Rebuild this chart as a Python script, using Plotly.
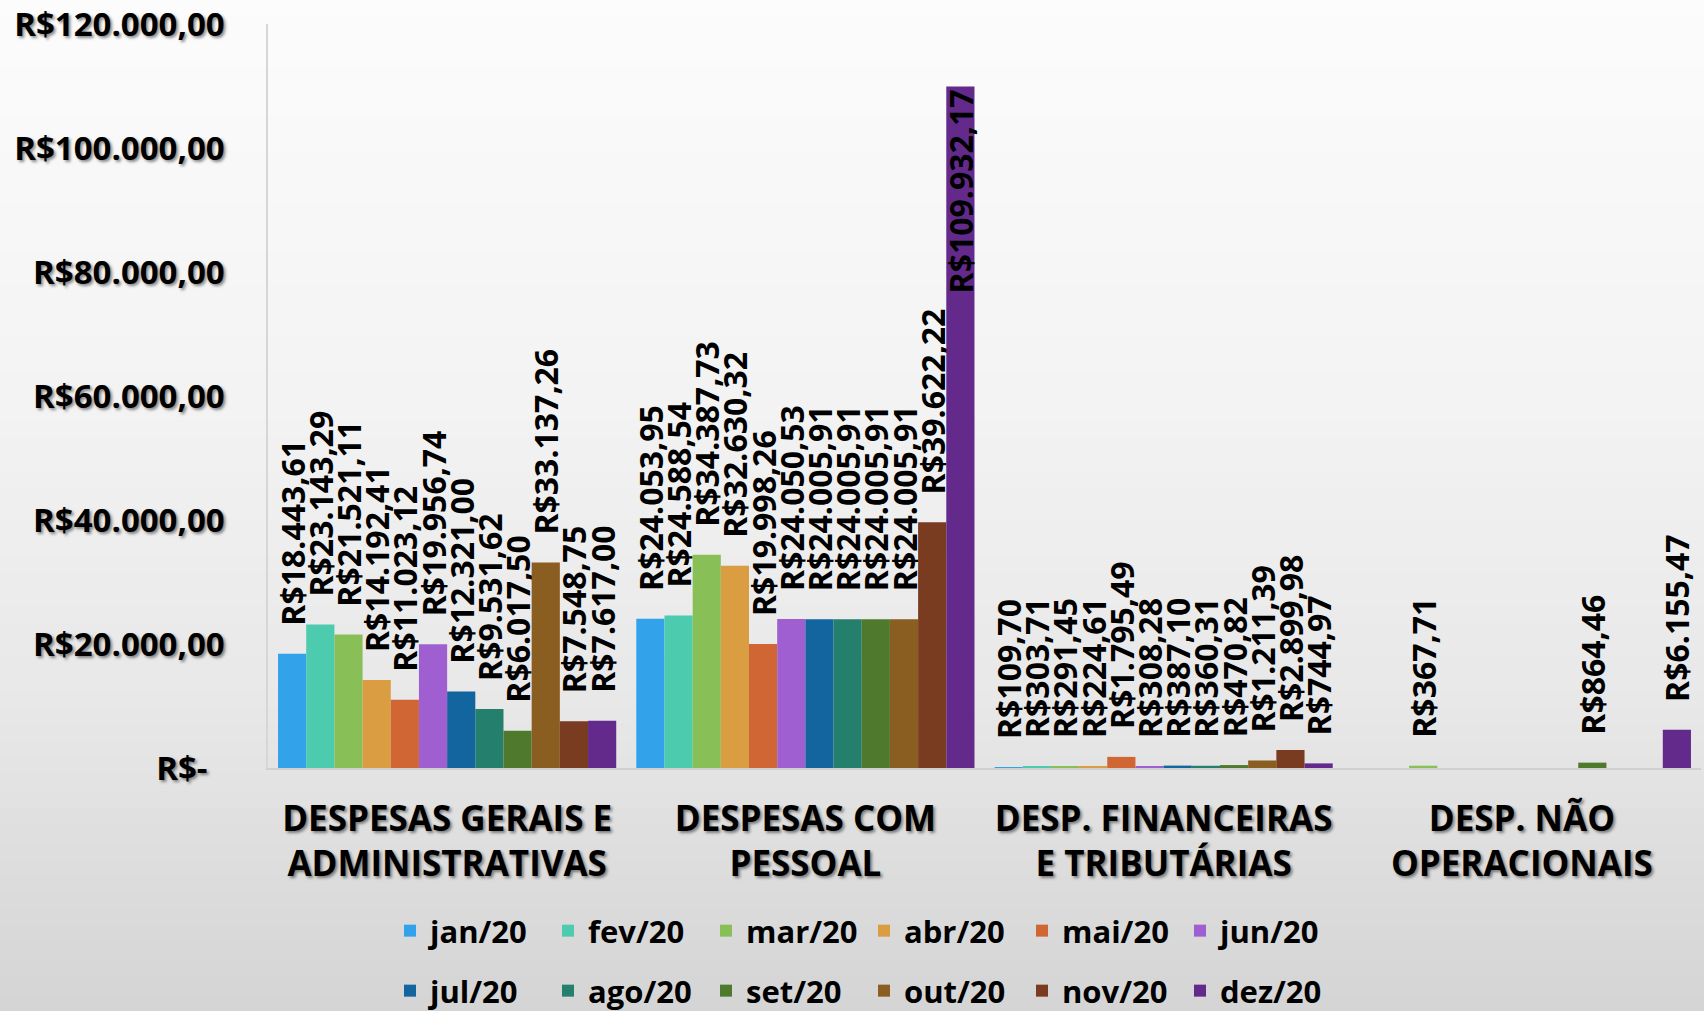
import plotly.graph_objects as go

# ---------------- data ----------------
categories = [
    "DESPESAS GERAIS E<br>ADMINISTRATIVAS",
    "DESPESAS COM<br>PESSOAL",
    "DESP. FINANCEIRAS<br>E TRIBUTÁRIAS",
    "DESP. NÃO<br>OPERACIONAIS",
]
months = ["jan/20", "fev/20", "mar/20", "abr/20", "mai/20", "jun/20",
          "jul/20", "ago/20", "set/20", "out/20", "nov/20", "dez/20"]

gerais_adm = [18443.61, 23143.29, 21521.11, 14192.41, 11023.12, 19956.74,
              12321.00, 9531.62, 6017.50, 33137.26, 7548.75, 7617.00]
pessoal = [24053.95, 24588.54, 34387.73, 32630.32, 19998.26, 24050.53,
           24005.91, 24005.91, 24005.91, 24005.91, 39622.22, 109932.17]
financeiras = [109.70, 303.71, 291.45, 224.61, 1795.49, 308.28,
               387.10, 360.31, 470.82, 1211.39, 2899.98, 744.97]
nao_operacionais = [None, None, 367.71, None, None, None,
                    None, None, 864.46, None, None, 6155.47]

month_colors = ["#32A3EB", "#4DCBAE", "#88C057", "#DA9D42", "#D06634", "#A05FD0",
                "#12659F", "#257F6D", "#4F7A2D", "#8A5D20", "#7A3C20", "#632A8C"]

y_tickvals = [0, 20000, 40000, 60000, 80000, 100000, 120000]


def brl(v):
    s = f"{v:,.2f}".replace(",", "X").replace(".", ",").replace("X", ".")
    return "R$" + s


y_ticktext = ["R$-\u00a0\u00a0" if v == 0 else brl(v) for v in y_tickvals]

FONT = "Open Sans"
W, H = 1704, 1011
ML, MR, MT, MB = 268, 3, 24, 243
PW, PH = W - ML - MR, H - MT - MB

series = [gerais_adm, pessoal, financeiras, nao_operacionais]

fig = go.Figure()
for i, m in enumerate(months):
    vals = [s[i] for s in series]
    texts = ["" if v is None else "\u00a0\u00a0\u00a0" + brl(v) for v in vals]
    positions = []
    for v in vals:
        if v is not None and v > 0.8 * y_tickvals[-1]:
            positions.append("inside")
        else:
            positions.append("outside")
    fig.add_trace(go.Bar(
        name=m,
        x=categories,
        y=vals,
        marker=dict(color=month_colors[i], line=dict(width=0)),
        text=texts,
        textposition=positions,
        insidetextanchor="end",
        textangle=-90,
        constraintext="none",
        cliponaxis=False,
        textfont=dict(family=FONT, size=32, color="black", weight="bold"),
        insidetextfont=dict(family=FONT, size=32, color="black", weight="bold"),
        outsidetextfont=dict(family=FONT, size=32, color="black", weight="bold"),
        legend="legend" if i < 6 else "legend2",
        hoverinfo="skip",
    ))

# background vertical gradient (decoration)
stops = [(0, 252), (400, 243), (700, 232), (1011, 212)]


def grey_at(p):
    for (p0, g0), (p1, g1) in zip(stops[:-1], stops[1:]):
        if p0 <= p <= p1:
            return g0 + (g1 - g0) * (p - p0) / (p1 - p0)
    return stops[-1][1]


shapes = []
nb = 60
for k in range(nb):
    p0 = H * k / nb
    p1 = H * (k + 1) / nb
    g = int(round(grey_at((p0 + p1) / 2)))
    shapes.append(dict(
        type="rect", xref="paper", yref="paper", layer="below",
        x0=-ML / PW - 0.01, x1=1 + MR / PW + 0.01,
        y0=(H - MB - p1) / PH - 0.001, y1=(H - MB - p0) / PH + 0.001,
        line=dict(width=0), fillcolor=f"rgb({g},{g},{g})",
    ))

shadow = "2px 2px 3px rgba(0,0,0,0.45)"

legend_common = dict(
    orientation="h",
    xref="container", yref="container",
    xanchor="left", yanchor="middle",
    bgcolor="rgba(0,0,0,0)",
    entrywidth=113, entrywidthmode="pixels",
    font=dict(family=FONT, size=31, color="black", weight="bold"),
    itemclick=False, itemdoubleclick=False,
)

fig.update_layout(
    width=W, height=H,
    margin=dict(l=ML, r=MR, t=MT, b=MB, pad=0, autoexpand=False),
    paper_bgcolor="#e6e6e6",
    plot_bgcolor="rgba(0,0,0,0)",
    barmode="group",
    bargap=0.056,
    bargroupgap=0,
    shapes=shapes,
    legend=dict(x=390 / W, y=1 - 931 / H, **legend_common),
    legend2=dict(x=390 / W, y=1 - 991 / H, **legend_common),
    showlegend=True,
)

fig.update_yaxes(
    range=[0, 120000],
    tickvals=y_tickvals,
    ticktext=y_ticktext,
    showgrid=False,
    zeroline=False,
    showline=True,
    linecolor="#d6d6d6",
    linewidth=1.5,
    ticks="",
    ticklabelstandoff=35,
    automargin=False,
    tickfont=dict(family=FONT, size=33, color="black", weight="bold", shadow=shadow),
)
fig.update_xaxes(
    showgrid=False,
    showline=True,
    linecolor="#d0d0d0",
    linewidth=1.5,
    ticks="",
    ticklabelstandoff=19,
    automargin=False,
    tickfont=dict(family=FONT, size=35, color="black", weight="bold", shadow=shadow),
)

fig.write_html(
    "out.html",
    config={"displayModeBar": False},
    post_script="document.body.style.margin='0';document.body.style.padding='0';",
)
